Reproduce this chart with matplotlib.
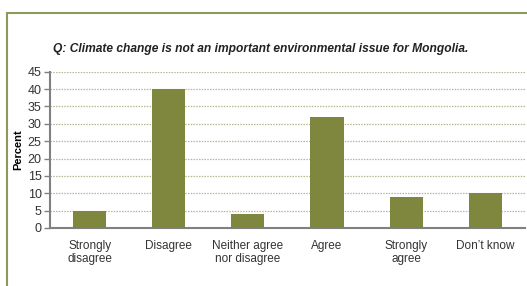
import numpy as np
import matplotlib.pyplot as plt
from matplotlib.patches import Rectangle

plt.rcParams['font.family'] = ['Liberation Sans', 'DejaVu Sans']

categories = ['Strongly\ndisagree', 'Disagree', 'Neither agree\nnor disagree',
              'Agree', 'Strongly\nagree', 'Don\u2019t know']
values = [5, 40, 4, 32, 9, 10]
title = 'Q: Climate change is not an important environmental issue for Mongolia.'

bar_color = '#7f873f'
grid_color = '#b4b893'
axis_color = '#808080'

fig = plt.figure(figsize=(5.27, 2.86), dpi=100)
ax = fig.add_axes([0.0949, 0.2028, 0.9011, 0.5465])

x = np.arange(len(categories))
ax.bar(x, values, width=0.42, color=bar_color, zorder=3)

ax.set_xlim(-0.5, len(categories) - 0.5)
ax.set_ylim(0, 45)
ax.set_yticks(np.arange(0, 46, 5))
ax.set_xticks(x)
ax.set_xticklabels(categories, fontsize=8.5, color='#333333', linespacing=1.05)
ax.tick_params(axis='x', length=0, pad=9)
ax.tick_params(axis='y', length=4, width=1, color=axis_color, labelsize=9,
               labelcolor='#333333', pad=2)

for yv in range(5, 46, 5):
    ax.axhline(yv, color=grid_color, linestyle=(0, (1.2, 1)), linewidth=0.9, zorder=1)

for s in ['top', 'right']:
    ax.spines[s].set_visible(False)
ax.spines['left'].set_color(axis_color)
ax.spines['bottom'].set_color(axis_color)
ax.spines['left'].set_linewidth(1.5)
ax.spines['bottom'].set_linewidth(1.5)

ax.set_ylabel('Percent', fontsize=8, fontweight='bold', labelpad=3)
fig.text(0.1, 0.828, title, fontsize=8.65, fontweight='bold', style='italic',
         color='#222222', va='center', ha='left')

fig.patches.append(Rectangle((0.0133, -0.1), 2, 1.0545, transform=fig.transFigure,
                             fill=False, edgecolor='#8a9a5b', linewidth=1.5))

fig.savefig('out.png', dpi=100)
